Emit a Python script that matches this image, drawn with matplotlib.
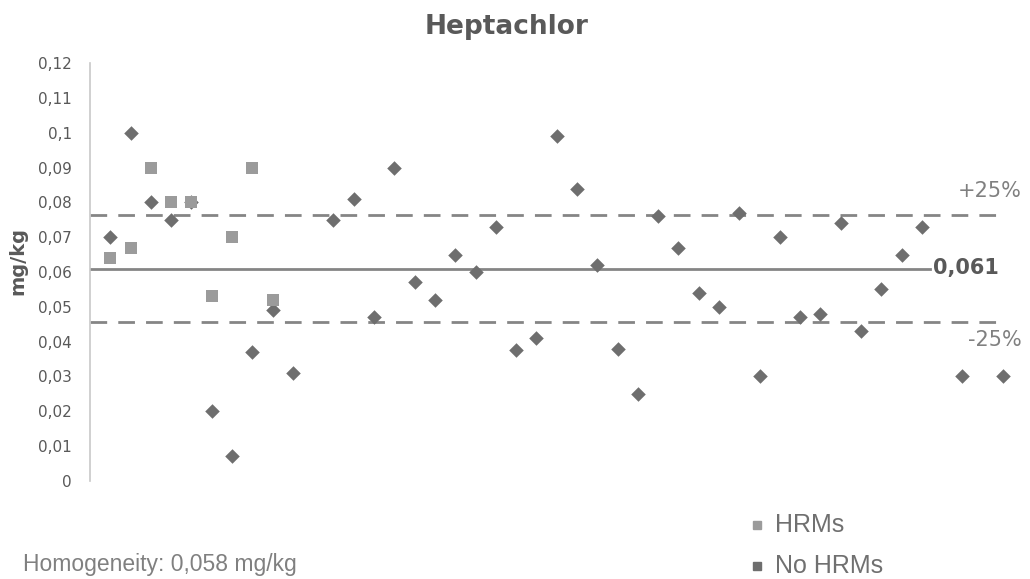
import matplotlib
matplotlib.use("Agg")
import matplotlib.pyplot as plt
from matplotlib.lines import Line2D
from matplotlib.ticker import FixedLocator

# ---- data ----
title = "Heptachlor"
y_label = "mg/kg"
assigned_value = 0.061
upper_limit = 0.07625
lower_limit = 0.04575
assigned_label = "0,061"
upper_label = "+25%"
lower_label = "-25%"
homogeneity_text = "Homogeneity: 0,058 mg/kg"
legend_labels = ["HRMs", "No HRMs"]

hrm_x = [1, 2, 3, 4, 5, 6, 7, 8, 9]
hrm_y = [0.064, 0.067, 0.090, 0.080, 0.080, 0.053, 0.070, 0.090, 0.052]

nohrm_x = [1, 2, 3, 4, 5, 6, 7, 8, 9, 10, 12, 13, 14, 15, 16, 17, 18, 19, 20,
           21, 22, 23, 24, 25, 26, 27, 28, 29, 30, 31, 32, 33, 34, 35, 36, 37,
           38, 39, 40, 41, 43, 45]
nohrm_y = [0.070, 0.100, 0.080, 0.075, 0.080, 0.020, 0.007, 0.037, 0.049, 0.031,
           0.075, 0.081, 0.047, 0.090, 0.057, 0.052, 0.065, 0.060, 0.073,
           0.0375, 0.041, 0.099, 0.084, 0.062, 0.038, 0.025, 0.076, 0.067,
           0.054, 0.050, 0.077, 0.030, 0.070, 0.047, 0.048, 0.074, 0.043,
           0.055, 0.065, 0.073, 0.030, 0.030]

y_ticks = [0, 0.01, 0.02, 0.03, 0.04, 0.05, 0.06, 0.07, 0.08, 0.09, 0.10, 0.11, 0.12]
y_tick_labels = ["0", "0,01", "0,02", "0,03", "0,04", "0,05", "0,06", "0,07",
                 "0,08", "0,09", "0,1", "0,11", "0,12"]

# ---- figure ----
W, H = 1030, 579
fig = plt.figure(figsize=(W / 100, H / 100), dpi=100)
fig.patch.set_facecolor("white")

ax_left, ax_right = 90, 1020
ax_bottom, ax_top = 480.7, 63.3
ax = fig.add_axes([ax_left / W, 1 - ax_bottom / H,
                   (ax_right - ax_left) / W, (ax_bottom - ax_top) / H])
ax.set_xlim(0, (ax_right - ax_left) / 20.29)
ax.set_ylim(0, 0.12)

dark = "#6e6e6e"
light = "#9b9b9b"
line_col = "#858585"
text_col = "#595959"

x_end_limits = max(nohrm_x)
ax.plot([0, x_end_limits], [upper_limit, upper_limit], color=line_col, lw=2,
        ls=(0, (6, 4)), zorder=1)
ax.plot([0, x_end_limits], [lower_limit, lower_limit], color=line_col, lw=2,
        ls=(0, (6, 4)), zorder=1)
ax.plot([0, 41.4], [assigned_value, assigned_value], color=line_col, lw=2, zorder=1)

ax.scatter(nohrm_x, nohrm_y, marker="D", s=55, color=dark, linewidths=0, zorder=3)
ax.scatter(hrm_x, hrm_y, marker="s", s=80, color=light, linewidths=0, zorder=4)

for s in ["top", "right", "bottom"]:
    ax.spines[s].set_visible(False)
ax.spines["left"].set_color("#c8c8c8")
ax.spines["left"].set_linewidth(1.2)
ax.set_xticks([])
ax.yaxis.set_major_locator(FixedLocator(y_ticks))
ax.set_yticklabels(y_tick_labels)
ax.tick_params(axis="y", length=0, pad=13, labelsize=11, labelcolor=text_col)

ax.set_ylabel(y_label, fontsize=14, fontweight="bold", color=text_col)
ax.yaxis.set_label_coords(-(90 - 17.5) / (ax_right - ax_left),
                          (ax_bottom - 260.5) / (ax_bottom - ax_top))
ax.yaxis.label.set_va("center")

fig.text(1022 / W, 1 - 190.7 / H, upper_label, ha="right", va="center",
         fontsize=15, color="#808080")
fig.text(1022 / W, 1 - 340 / H, lower_label, ha="right", va="center",
         fontsize=15, color="#808080")
fig.text(933 / W, 1 - 268 / H, assigned_label, ha="left", va="center",
         fontsize=15, fontweight="bold", color=text_col)

fig.text(507 / W, 1 - 27 / H, title, ha="center", va="center",
         fontsize=19, fontweight="bold", color=text_col)

# legend (manually placed entries)
for lab, col, yy in zip(legend_labels, [light, dark], [525, 566]):
    fig.add_artist(Line2D([757 / W], [1 - yy / H], marker="s", ls="none",
                          color=col, markersize=6, transform=fig.transFigure))
    fig.text(775 / W, 1 - yy / H, lab, ha="left", va="center", fontsize=18,
             color="#707070", family=["Liberation Sans", "DejaVu Sans"])

fig.text(23 / W, 1 - 565 / H, homogeneity_text, ha="left", va="center",
         fontsize=16.5, color="#808080", family=["Liberation Sans", "DejaVu Sans"])

fig.savefig("out.png", dpi=100, facecolor="white")
